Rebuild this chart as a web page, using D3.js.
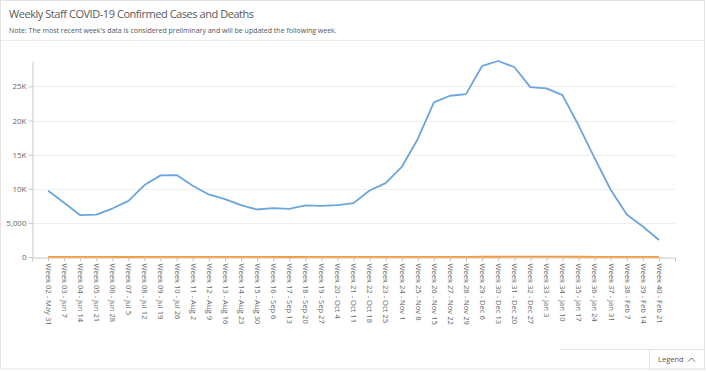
<!DOCTYPE html>
<html>
<head>
<meta charset="utf-8">
<script src="https://cdn.jsdelivr.net/npm/d3@7"></script>
<style>
  body { margin: 0; background: #fff; font-family: "Open Sans", sans-serif; }
  svg { display: block; }
</style>
</head>
<body>
<svg id="chart" width="706" height="372"></svg>
<script>
const weeks = ["Week 02 - May 31", "Week 03 - Jun 7", "Week 04 - Jun 14", "Week 05 - Jun 21", "Week 06 - Jun 28",
  "Week 07 - Jul 5", "Week 08 - Jul 12", "Week 09 - Jul 19", "Week 10 - Jul 26", "Week 11 - Aug 2",
  "Week 12 - Aug 9", "Week 13 - Aug 16", "Week 14 - Aug 23", "Week 15 - Aug 30", "Week 16 - Sep 6",
  "Week 17 - Sep 13", "Week 18 - Sep 20", "Week 19 - Sep 27", "Week 20 - Oct 4", "Week 21 - Oct 11",
  "Week 22 - Oct 18", "Week 23 - Oct 25", "Week 24 - Nov 1", "Week 25 - Nov 8", "Week 26 - Nov 15",
  "Week 27 - Nov 22", "Week 28 - Nov 29", "Week 29 - Dec 6", "Week 30 - Dec 13", "Week 31 - Dec 20",
  "Week 32 - Dec 27", "Week 33 - Jan 3", "Week 34 - Jan 10", "Week 35 - Jan 17", "Week 36 - Jan 24",
  "Week 37 - Jan 31", "Week 38 - Feb 7", "Week 39 - Feb 14", "Week 40 - Feb 21"];

const cases = [9700, 7950, 6130, 6220, 7100, 8230, 10540, 11960, 12010, 10440,
  9170, 8480, 7600, 6960, 7160, 7060, 7550, 7500, 7600, 7890,
  9750, 10830, 13190, 17300, 22650, 23630, 23870, 27990, 28720, 27840,
  24900, 24700, 23720, 19300, 14500, 9850, 6230, 4460, 2500];

const deaths = [12, 8, 5, 4, 4, 3, 5, 8, 10, 9,
  7, 6, 5, 4, 4, 3, 4, 4, 4, 5,
  6, 8, 11, 15, 22, 28, 30, 34, 40, 42,
  44, 46, 45, 40, 32, 24, 15, 10, 5];

const yTicks = [0, 5000, 10000, 15000, 20000, 25000];

const svg = d3.select("#chart");
const plotLeft = 32, plotRight = 675, plotTop = 61, plotBottom = 257;

// card frame
svg.append("rect")
  .attr("x", 0.5).attr("y", 0.5)
  .attr("width", 704).attr("height", 368.5)
  .attr("fill", "none").attr("stroke", "#e3e3e3");

svg.append("text")
  .attr("x", 9).attr("y", 18)
  .attr("fill", "#5a5a5a")
  .style("font-size", "11px")
  .style("letter-spacing", "-0.45px")
  .text("Weekly Staff COVID-19 Confirmed Cases and Deaths");

svg.append("text")
  .attr("x", 9).attr("y", 33)
  .attr("fill", "#555")
  .style("font-size", "7px")
  .text("Note: The most recent week's data is considered preliminary and will be updated the following week.");

svg.append("line")
  .attr("x1", 1).attr("x2", 704).attr("y1", 40.5).attr("y2", 40.5)
  .attr("stroke", "#ececec");

const x = d3.scalePoint()
  .domain(weeks)
  .range([plotLeft, plotRight])
  .padding(1);

const y = d3.scaleLinear()
  .domain([0, d3.max(cases)])
  .range([plotBottom, plotTop]);

// gridlines
svg.append("g")
  .selectAll("line")
  .data(yTicks.slice(1))
  .join("line")
  .attr("x1", plotLeft).attr("x2", plotRight)
  .attr("y1", d => Math.round(y(d)) + 0.5).attr("y2", d => Math.round(y(d)) + 0.5)
  .attr("stroke", "#efefef");

const fmt = d => d >= 10000 ? (d / 1000) + "K" : d3.format(",")(d);

const yAxis = svg.append("g")
  .attr("transform", "translate(" + (plotLeft + 0.5) + ",0)")
  .call(d3.axisLeft(y).tickValues(yTicks).tickFormat(fmt).tickSize(4).tickSizeOuter(0));
yAxis.selectAll("text").attr("fill", "#666").style("font-size", "8px").style("font-family", "Open Sans").attr("x", -6);
yAxis.select(".domain").attr("stroke", "#c8c8c8");
yAxis.selectAll(".tick line").attr("stroke", "#c8c8c8");

const xAxis = svg.append("g")
  .attr("transform", "translate(0," + (plotBottom + 0.5) + ")")
  .call(d3.axisBottom(x).tickSize(4).tickSizeOuter(4));
xAxis.select(".domain").attr("stroke", "#c8c8c8");
xAxis.selectAll(".tick line").attr("stroke", "#c8c8c8");
xAxis.selectAll("text")
  .attr("fill", "#666")
  .style("font-size", "7.6px")
  .style("font-family", "Open Sans")
  .attr("transform", "rotate(90)")
  .attr("x", 6).attr("y", 0).attr("dy", "0.35em")
  .style("text-anchor", "start");

const line = d3.line()
  .x((d, i) => x(weeks[i]))
  .y(d => y(d));

svg.append("path")
  .datum(cases)
  .attr("d", line)
  .attr("fill", "none")
  .attr("stroke", "#6aa6dc")
  .attr("stroke-width", 1.8)
  .attr("stroke-linejoin", "round");

svg.append("path")
  .datum(deaths)
  .attr("d", line)
  .attr("fill", "none")
  .attr("stroke", "#f59a3c")
  .attr("stroke-width", 1.8);

// legend toggle
svg.append("line")
  .attr("x1", 560).attr("x2", 649).attr("y1", 349.5).attr("y2", 349.5)
  .attr("stroke", "#e6e6e6");
svg.append("rect")
  .attr("x", 649.5).attr("y", 349.5)
  .attr("width", 55).attr("height", 19.5)
  .attr("fill", "#fff").attr("stroke", "#e3e3e3");
svg.append("text")
  .attr("x", 658).attr("y", 362)
  .attr("fill", "#555")
  .style("font-size", "7.5px")
  .text("Legend");
svg.append("path")
  .attr("d", "M688,361.5 L691.5,358 L695,361.5")
  .attr("fill", "none")
  .attr("stroke", "#666")
  .attr("stroke-width", 1);
</script>
</body>
</html>
